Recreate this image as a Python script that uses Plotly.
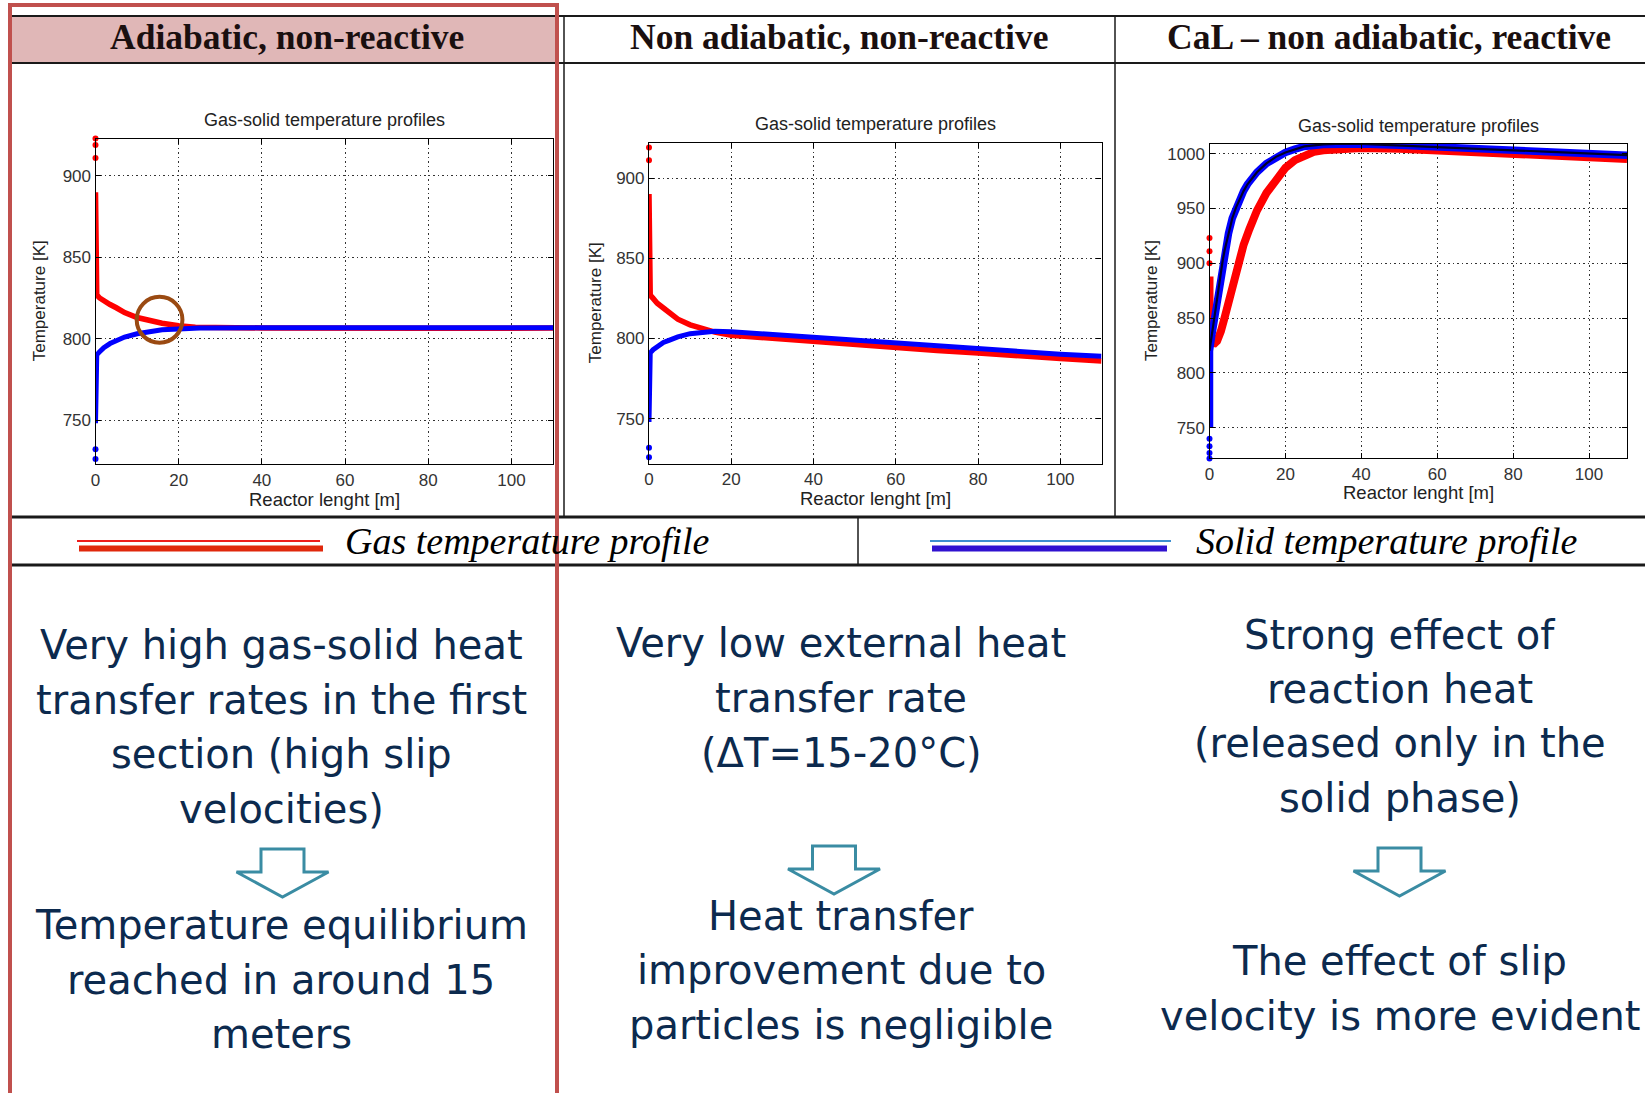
import plotly.graph_objects as go

W, H = 1645, 1093

# ---------------- data ----------------
panel_titles = ["Adiabatic, non-reactive", "Non adiabatic, non-reactive", "CaL \u2013 non adiabatic, reactive"]
plot_title = "Gas-solid temperature profiles"
x_label = "Reactor lenght [m]"
y_label = "Temperature [K]"
legend_labels = ["Gas temperature profile", "Solid temperature profile"]

# Panel 1: adiabatic, non-reactive
gas1_x = [0, 0, 0.3, 1, 2, 3.5, 5, 7, 10, 13, 16, 20, 24, 40, 60, 80, 110]
gas1_y = [890, 831, 827, 825, 823, 821, 819, 816, 813, 811, 809.5, 808, 807, 806.6, 806.3, 806.4, 806.5]
solid1_x = [0, 0, 0.3, 1, 2, 3.5, 5, 7, 10, 13, 16, 20, 25, 40, 60, 80, 110]
solid1_y = [748, 787, 790, 792, 794.5, 797, 798.5, 801, 803, 804.5, 805.5, 806, 806.5, 806.7, 806.7, 806.7, 806.7]
gas1_dots = [923, 919, 911]
solid1_dots = [732, 726, 721]

# Panel 2: non adiabatic, non-reactive
gas2_x = [0, 0, 0.3, 1, 2, 3.5, 5, 7, 10, 13, 16, 20, 30, 40, 50, 60, 70, 80, 90, 100, 110]
gas2_y = [890, 831, 827, 825, 822, 819, 816, 812, 808.5, 806, 804, 802, 800, 798, 796, 794.5, 792.5, 791, 789, 787.5, 786]
solid2_x = [0, 0, 0.3, 1, 2, 3.5, 5, 7, 10, 13, 16, 20, 30, 40, 50, 60, 70, 80, 90, 100, 110]
solid2_y = [748, 788, 791, 793, 795, 797.5, 799, 801, 803, 804, 804.5, 804.2, 802.5, 800.8, 798.8, 797, 795, 793.5, 791.8, 790.2, 789]
gas2_dots = [923, 919, 911]
solid2_dots = [732, 726, 721]

# Panel 3: CaL - non adiabatic, reactive
gas3_x = [0, 0, 0.7, 1.4, 2, 2.5, 3, 3.8, 5, 6, 7.5, 9, 10.5, 12.5, 15, 17.5, 20, 22.5, 25, 27.5,
          30, 35, 40, 50, 60, 70, 80, 90, 100, 110]
gas3_y = [888, 830, 827.5, 827, 829, 832, 838, 848, 864, 878, 900, 917, 931, 948, 964, 977, 987, 994, 998.5, 1001.5,
          1003, 1004.5, 1005, 1004.5, 1003, 1001, 999, 997.5, 996, 995]
solid3_x = [0, 0, 0.5, 1, 1.5, 2, 2.5, 3, 3.5, 4, 5, 6, 7, 8, 9, 10, 12.5, 15, 17.5, 20, 22.5, 25,
            30, 35, 40, 50, 60, 70, 80, 90, 100, 110]
solid3_y = [750, 820, 832, 843, 855, 868, 881, 893, 903, 912, 927, 941, 951, 959, 966, 972, 983, 991, 997, 1001, 1004, 1006.5,
            1008.3, 1009, 1008.8, 1007.5, 1006, 1004.5, 1003, 1001.5, 1000, 998.5]
gas3_dots = [923, 911, 900]
solid3_dots = [740, 733, 727, 722]

y_ranges = [[723, 923], [722, 922], [722, 1009]]
x_range = [0, 110]

col1_top = ["Very high gas-solid heat", "transfer rates in the first", "section (high slip", "velocities)"]
col1_bottom = ["Temperature equilibrium", "reached in around 15", "meters"]
col2_top = ["Very low external heat", "transfer rate", "(\u0394T=15-20\u00b0C)"]
col2_bottom = ["Heat transfer", "improvement due to", "particles is negligible"]
col3_top = ["Strong effect of", "reaction heat", "(released only in the", "solid phase)"]
col3_bottom = ["The effect of slip", "velocity is more evident"]


# ---------------- helpers ----------------
def fx(p):
    return p / W


def fy(p):
    return 1 - p / H


RED = "#ff0000"
BLUE = "#0000ff"
NAVY = "#0c2a4e"
TEAL = "#3a8ca3"

fig = go.Figure()

panels = [
    (gas1_x, gas1_y, solid1_x, solid1_y, gas1_dots, solid1_dots, "x", "y"),
    (gas2_x, gas2_y, solid2_x, solid2_y, gas2_dots, solid2_dots, "x2", "y2"),
    (gas3_x, gas3_y, solid3_x, solid3_y, gas3_dots, solid3_dots, "x3", "y3"),
]
for i, (gx, gy, sx, sy, gd, sd, xa, ya) in enumerate(panels):
    w = 8 if i == 2 else 5.5
    fig.add_trace(go.Scatter(x=gx, y=gy, mode="lines", line=dict(color=RED, width=w),
                             xaxis=xa, yaxis=ya, showlegend=False, hoverinfo="skip"))
    fig.add_trace(go.Scatter(x=[0] * len(gd), y=gd, mode="markers", cliponaxis=False,
                             marker=dict(color=RED, size=6), xaxis=xa, yaxis=ya,
                             showlegend=False, hoverinfo="skip"))
    fig.add_trace(go.Scatter(x=sx, y=sy, mode="lines", line=dict(color=BLUE, width=w - 0.5),
                             xaxis=xa, yaxis=ya, showlegend=False, hoverinfo="skip"))
    fig.add_trace(go.Scatter(x=[0] * len(sd), y=sd, mode="markers", cliponaxis=False,
                             marker=dict(color=BLUE, size=6), xaxis=xa, yaxis=ya,
                             showlegend=False, hoverinfo="skip"))
    if i == 2:
        fig.add_trace(go.Scatter(x=sx[1:], y=sy[1:], mode="lines", line=dict(color="#000028", width=2.2),
                                 xaxis=xa, yaxis=ya, showlegend=False, hoverinfo="skip"))

axis_common = dict(showline=True, linecolor="#000", linewidth=1.2, mirror="allticks",
                   ticks="inside", ticklen=5, tickcolor="#000", showgrid=True,
                   gridcolor="#333", griddash="1.5px,3px", gridwidth=1.2, zeroline=False,
                   tickfont=dict(family="Liberation Sans, Arial", size=17, color="#333"),
                   fixedrange=True, automargin=False)

# plot areas in pixels (left, right, top, bottom)
boxes = [(95.5, 553, 138.5, 464), (649, 1101.5, 142.7, 463.7), (1209.5, 1627, 143.7, 458.4)]
layout_axes = {}
for i, (l, r, t, b) in enumerate(boxes):
    s = "" if i == 0 else str(i + 1)
    layout_axes["xaxis" + s] = dict(axis_common, domain=[fx(l), fx(r)], range=x_range,
                                    dtick=20, tick0=0, anchor="y" + s)
    layout_axes["yaxis" + s] = dict(axis_common, domain=[fy(b), fy(t)], range=y_ranges[i],
                                    dtick=50, tick0=0, anchor="x" + s)

fig.update_layout(width=W, height=H, margin=dict(l=0, r=0, t=0, b=0, pad=0, autoexpand=False),
                  paper_bgcolor="white", plot_bgcolor="white", showlegend=False,
                  **layout_axes)

shapes = []
# header pink cell
shapes.append(dict(type="rect", xref="paper", yref="paper", x0=fx(10), x1=fx(557), y0=fy(63), y1=fy(16),
                   fillcolor="#e0b7b7", line=dict(width=0), layer="below"))
# table lines
for yy, lw in [(16, 2), (63, 2), (517, 3), (565, 3)]:
    shapes.append(dict(type="line", xref="paper", yref="paper", x0=fx(10), x1=1, y0=fy(yy), y1=fy(yy),
                       line=dict(color="#1a1a1a", width=lw)))
for xx in [564, 1115]:
    shapes.append(dict(type="line", xref="paper", yref="paper", x0=fx(xx), x1=fx(xx), y0=fy(16), y1=fy(517),
                       line=dict(color="#1a1a1a", width=1.5)))
shapes.append(dict(type="line", xref="paper", yref="paper", x0=fx(858), x1=fx(858), y0=fy(517), y1=fy(565),
                   line=dict(color="#1a1a1a", width=1.5)))
# legend samples
shapes.append(dict(type="line", xref="paper", yref="paper", x0=fx(77), x1=fx(320), y0=fy(541), y1=fy(541),
                   line=dict(color="#ee1c1c", width=2)))
shapes.append(dict(type="line", xref="paper", yref="paper", x0=fx(79), x1=fx(323), y0=fy(548.5), y1=fy(548.5),
                   line=dict(color="#e0280c", width=6)))
shapes.append(dict(type="line", xref="paper", yref="paper", x0=fx(930), x1=fx(1171), y0=fy(541), y1=fy(541),
                   line=dict(color="#3d8fd0", width=2)))
shapes.append(dict(type="line", xref="paper", yref="paper", x0=fx(932), x1=fx(1167), y0=fy(548.5), y1=fy(548.5),
                   line=dict(color="#3012d0", width=6)))


# hollow down arrows
def arrow(cx, top):
    pts = [(cx - 21.5, top), (cx + 21.5, top), (cx + 21.5, top + 23), (cx + 46, top + 23),
           (cx, top + 48), (cx - 46, top + 23), (cx - 21.5, top + 23)]
    path = "M " + " L ".join(f"{fx(a):.5f},{fy(b):.5f}" for a, b in pts) + " Z"
    return dict(type="path", xref="paper", yref="paper", path=path,
                fillcolor="white", line=dict(color=TEAL, width=3))


shapes.append(arrow(282.5, 849))
shapes.append(arrow(834, 846))
shapes.append(arrow(1399.5, 848))

# circle highlight on panel 1
shapes.append(dict(type="circle", xref="x", yref="y", x0=9.9, x1=20.9, y0=797.5, y1=825.7,
                   line=dict(color="#9a4a12", width=4)))

# red highlight box around first column
shapes.append(dict(type="rect", xref="paper", yref="paper", x0=fx(10), x1=fx(557), y0=-0.02, y1=fy(5),
                   line=dict(color="#c0504d", width=4), fillcolor="rgba(0,0,0,0)", layer="above"))

ann = []
# header titles
for txt, cx in zip(panel_titles, [287, 839, 1389]):
    ann.append(dict(text=f"<b>{txt}</b>", x=fx(cx), y=fy(37), xref="paper", yref="paper",
                    showarrow=False, xanchor="center", yanchor="middle",
                    font=dict(family="Liberation Serif, Times New Roman", size=35.5, color="#1a0f0f")))
# plot titles and axis labels
for (l, r, t, b), ty, xl_y, yl_x in zip(boxes, [120, 124, 126], [500, 499, 493], [39, 595, 1151]):
    cx = (l + r) / 2
    ann.append(dict(text=plot_title, x=fx(cx), y=fy(ty), xref="paper", yref="paper", showarrow=False,
                    xanchor="center", yanchor="middle",
                    font=dict(family="Liberation Sans, Arial", size=18, color="#222")))
    ann.append(dict(text=x_label, x=fx(cx), y=fy(xl_y), xref="paper", yref="paper", showarrow=False,
                    xanchor="center", yanchor="middle",
                    font=dict(family="Liberation Sans, Arial", size=18.5, color="#222")))
    ann.append(dict(text=y_label, x=fx(yl_x), y=fy((t + b) / 2), xref="paper", yref="paper", showarrow=False,
                    xanchor="center", yanchor="middle", textangle=-90,
                    font=dict(family="Liberation Sans, Arial", size=17, color="#222")))
# legend texts
for txt, lx in zip(legend_labels, [343, 1194]):
    ann.append(dict(text=f"<i>{txt}</i>", x=fx(lx), y=fy(541), xref="paper", yref="paper", showarrow=False,
                    xanchor="left", yanchor="middle",
                    font=dict(family="Liberation Serif, Times New Roman", size=38, color="#000")))

# body text
blocks = [
    (col1_top, 281, [645, 700, 754, 809]),
    (col1_bottom, 281, [925, 980, 1034]),
    (col2_top, 841, [643, 698, 753]),
    (col2_bottom, 841, [916, 970, 1025]),
    (col3_top, 1399.5, [635, 689, 743, 798]),
    (col3_bottom, 1399.5, [961, 1015.5]),
]
for lines, cx, ys in blocks:
    for line, yy in zip(lines, ys):
        ann.append(dict(text=line, x=fx(cx), y=fy(yy), xref="paper", yref="paper", showarrow=False,
                        xanchor="center", yanchor="middle",
                        font=dict(family="DejaVu Sans, Verdana", size=40, color=NAVY)))

fig.update_layout(shapes=shapes, annotations=ann)
fig.write_html("out.html")
